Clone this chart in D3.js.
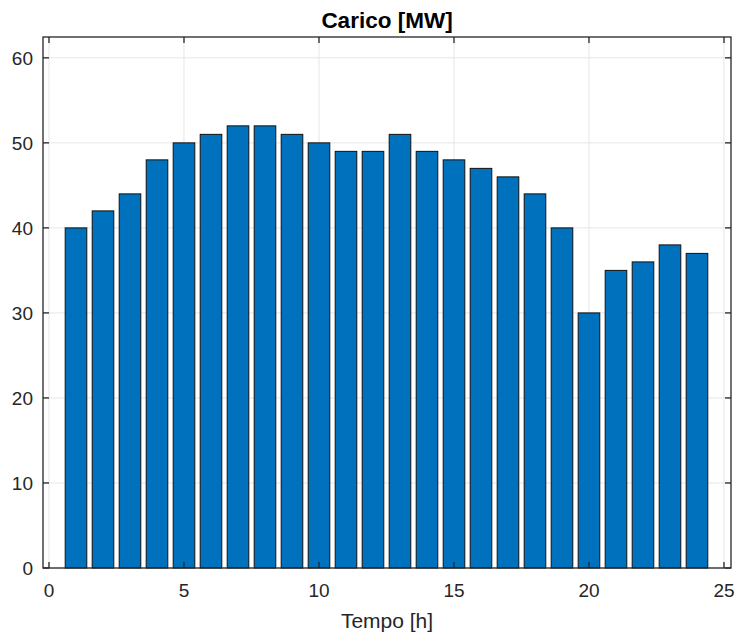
<!DOCTYPE html>
<html><head><meta charset="utf-8">
<script src="https://cdn.jsdelivr.net/npm/d3@7"></script>
<style>body{margin:0;background:#fff;} text{font-family:"Liberation Sans",Arial,Helvetica,sans-serif;}</style>
</head><body>
<svg id="c" width="736" height="633"></svg>
<script>
const hours = [1,2,3,4,5,6,7,8,9,10,11,12,13,14,15,16,17,18,19,20,21,22,23,24];
const carico = [40,42,44,48,50,51,52,52,51,50,49,49,51,49,48,47,46,44,40,30,35,36,38,37];
const xTicks = [0,5,10,15,20,25];
const yTicks = [0,10,20,30,40,50,60];

const svg = d3.select("#c");
const L=43, R=731, T=37, B=568;
const x = d3.scaleLinear().domain([-0.222, 25.26]).range([L,R]);
const y = d3.scaleLinear().domain([0, 62.45]).range([B,T]);
const ink = "#262626";

// grid
svg.append("g").selectAll("line").data(xTicks).join("line")
  .attr("x1",d=>x(d)).attr("x2",d=>x(d)).attr("y1",T).attr("y2",B)
  .attr("stroke","#e6e6e6").attr("stroke-width",1);
svg.append("g").selectAll("line").data(yTicks).join("line")
  .attr("x1",L).attr("x2",R).attr("y1",d=>y(d)).attr("y2",d=>y(d))
  .attr("stroke","#e6e6e6").attr("stroke-width",1);

// bars
const bw = x(0.8)-x(0);
svg.append("g").selectAll("rect").data(hours).join("rect")
  .attr("x",(d)=>x(d)-bw/2)
  .attr("width",bw)
  .attr("y",(d,i)=>y(carico[i]))
  .attr("height",(d,i)=>y(0)-y(carico[i]))
  .attr("fill","#0072BD").attr("stroke","#111").attr("stroke-width",1);

// axes box
svg.append("rect").attr("x",L).attr("y",T).attr("width",R-L).attr("height",B-T)
  .attr("fill","none").attr("stroke",ink).attr("stroke-width",1.3);

// ticks (inside)
const tl=6;
const g = svg.append("g").attr("stroke",ink).attr("stroke-width",1.3);
xTicks.forEach(d=>{
  g.append("line").attr("x1",x(d)).attr("x2",x(d)).attr("y1",B).attr("y2",B-tl);
  g.append("line").attr("x1",x(d)).attr("x2",x(d)).attr("y1",T).attr("y2",T+tl);
});
yTicks.forEach(d=>{
  g.append("line").attr("x1",L).attr("x2",L+tl).attr("y1",y(d)).attr("y2",y(d));
  g.append("line").attr("x1",R).attr("x2",R-tl).attr("y1",y(d)).attr("y2",y(d));
});

// tick labels
svg.append("g").selectAll("text").data(xTicks).join("text")
  .attr("x",d=>x(d)).attr("y",B+29).attr("text-anchor","middle")
  .attr("font-size",19).attr("fill",ink).text(d=>d);
svg.append("g").selectAll("text").data(yTicks).join("text")
  .attr("x",L-10).attr("y",d=>y(d)+7).attr("text-anchor","end")
  .attr("font-size",19).attr("fill",ink).text(d=>d);

// title & label
svg.append("text").attr("x",(L+R)/2).attr("y",27.5).attr("text-anchor","middle")
  .attr("font-size",22.5).attr("font-weight","bold").attr("fill","#000").text("Carico [MW]");
svg.append("text").attr("x",(L+R)/2).attr("y",628).attr("text-anchor","middle")
  .attr("font-size",21).attr("fill",ink).text("Tempo [h]");
</script>
</body></html>
